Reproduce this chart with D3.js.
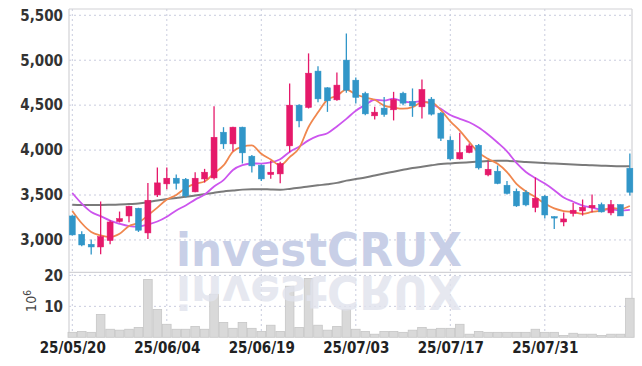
<!DOCTYPE html>
<html>
<head>
<meta charset="utf-8">
<script src="https://cdn.jsdelivr.net/npm/d3@7"></script>
<style>
  body { margin: 0; background: #fff; }
  svg { display: block; }
</style>
</head>
<body>
<div id="container"></div>
<script>
/* DATA */
const dates = ["25/05/20","25/05/21","25/05/22","25/05/23","25/05/26","25/05/27","25/05/28","25/05/29","25/05/30","25/06/02",
  "25/06/04","25/06/05","25/06/09","25/06/10","25/06/11","25/06/12","25/06/13","25/06/16","25/06/17","25/06/18",
  "25/06/19","25/06/20","25/06/23","25/06/24","25/06/25","25/06/26","25/06/27","25/06/30","25/07/01","25/07/02",
  "25/07/03","25/07/04","25/07/07","25/07/08","25/07/09","25/07/10","25/07/11","25/07/14","25/07/15","25/07/16",
  "25/07/17","25/07/18","25/07/21","25/07/22","25/07/23","25/07/24","25/07/25","25/07/28","25/07/29","25/07/30",
  "25/07/31","25/08/01","25/08/04","25/08/05","25/08/06","25/08/07","25/08/08","25/08/11","25/08/12","25/08/13"];

const open = [3267,3063,2952,2922,2993,3205,3267,3353,3078,3501,
  3624,3687,3676,3535,3679,3690,4199,4069,4255,3932,
  3832,3728,3735,4047,4500,4474,4879,4693,4559,5001,
  4778,4630,4381,4467,4448,4633,4541,4481,4567,4411,
  4110,3902,3973,4054,3724,3765,3609,3542,3531,3361,
  3487,3260,3200,3294,3323,3357,3394,3301,3394,3798];
const high = [3275,3097,3004,3428,3220,3316,3380,3358,3635,3806,
  3806,3728,3690,3754,3791,4489,4255,4260,4260,3945,
  3840,3880,3870,4742,4511,5076,4934,4700,4864,5298,
  4808,4648,4481,4592,4648,4648,4686,4786,4590,4425,
  4155,4192,4073,4069,3876,3828,3657,3572,3555,3695,
  3500,3265,3305,3412,3450,3505,3416,3445,3394,3962];
const low = [3050,2930,2837,2841,2952,3194,3197,3089,3011,3479,
  3564,3561,3472,3530,3639,3672,4013,3988,3851,3751,
  3657,3680,3631,3977,4255,4463,4533,4425,4550,4637,
  4519,4389,4341,4370,4330,4500,4370,4352,4385,4102,
  3888,3895,3965,3784,3709,3620,3505,3368,3375,3308,
  3238,3122,3152,3260,3271,3308,3305,3275,3267,3494];
const close = [3056,2944,2922,3038,3200,3238,3375,3108,3442,3635,
  3687,3631,3490,3687,3754,4143,4069,4255,3969,3824,
  3679,3754,3851,4500,4325,4856,4570,4548,4723,4667,
  4586,4403,4422,4396,4563,4522,4492,4675,4400,4132,
  3902,3973,4047,3802,3787,3628,3517,3379,3390,3464,
  3278,3245,3234,3331,3364,3386,3312,3394,3267,3531];

// volume, in 10^6
const volume = [1.6,1.9,1.6,7.4,2.6,2.3,2.6,3.2,18.7,9.0,
  4.2,2.6,2.6,3.5,2.6,13.9,4.8,2.9,4.8,2.9,
  1.9,3.9,1.9,16.5,3.2,19.0,3.9,2.3,3.5,9.0,
  2.6,1.9,1.0,1.9,1.9,1.6,2.3,3.2,2.6,2.9,
  2.9,4.2,1.0,1.9,1.6,1.6,1.6,1.6,1.6,2.6,
  1.6,1.6,0.6,1.3,1.0,1.0,0.6,1.0,1.0,12.6];

const ma5 = [3323,3186,3089,3050,3032,3068,3155,3192,3273,3360,
  3449,3501,3577,3626,3650,3741,3829,3982,4038,4052,
  3959,3896,3830,3922,4022,4257,4420,4560,4604,4673,
  4619,4585,4560,4495,4474,4461,4479,4530,4530,4444,
  4320,4216,4091,3971,3902,3847,3756,3623,3540,3476,
  3406,3351,3322,3310,3290,3312,3325,3357,3345,3378];
const ma10 = [3523,3405,3312,3265,3215,3180,3155,3148,3172,3205,
  3259,3328,3384,3449,3505,3595,3665,3779,3832,3851,
  3850,3862,3899,3980,4037,4108,4158,4188,4263,4347,
  4438,4503,4560,4550,4573,4540,4532,4545,4513,4459,
  4391,4348,4310,4251,4173,4084,3986,3857,3756,3689,
  3627,3554,3472,3425,3383,3359,3338,3340,3328,3334];
const ma60 = [3392,3390,3390,3390,3392,3395,3400,3405,3420,3440,
  3455,3468,3480,3495,3510,3525,3540,3550,3560,3565,
  3565,3562,3560,3568,3580,3595,3608,3620,3635,3660,
  3678,3695,3718,3740,3760,3780,3800,3815,3830,3845,
  3852,3858,3865,3872,3878,3880,3880,3875,3868,3862,
  3855,3850,3845,3840,3835,3830,3827,3823,3821,3821];

const priceTicks = [3000, 3500, 4000, 4500, 5000, 5500];
const volTicks = [10, 20];
const dateTicks = ["25/05/20","25/06/04","25/06/19","25/07/03","25/07/17","25/07/31"];

/* CONSTANTS */
const width = 642, height = 366;
const plotLeft = 69, plotRight = 632;
const priceTop = 9, priceBottom = 272.3;
const volTop = 272.3, volBottom = 337.3;
const up = "#e5196a", down = "#3196c8";
const font = "'Liberation Sans Narrow', 'DejaVu Sans Condensed', sans-serif";

const candles = dates.map((d, i) => ({
  date: d, o: open[i], h: high[i], l: low[i], c: close[i], v: volume[i]
}));

/* SCALES */
const xScale = d3.scalePoint()
  .domain(dates)
  .range([72.3, 629.85]);

const yScale = d3.scaleLinear()
  .domain([2640, 5570])
  .range([priceBottom, priceTop]);

const vScale = d3.scaleLinear()
  .domain([0, 21])
  .range([volBottom, volTop]);

/* SVG */
const svg = d3.select("#container")
  .append("svg")
  .attr("width", width)
  .attr("height", height);

// grid
const grid = svg.append("g")
  .attr("stroke", "#c9ccde")
  .attr("stroke-dasharray", "2,3")
  .attr("stroke-width", 1);

grid.selectAll(".hgrid")
  .data(priceTicks)
  .join("line")
  .attr("x1", plotLeft).attr("x2", plotRight)
  .attr("y1", d => yScale(d)).attr("y2", d => yScale(d));

grid.selectAll(".vgrid")
  .data(volTicks)
  .join("line")
  .attr("x1", plotLeft).attr("x2", plotRight)
  .attr("y1", d => vScale(d)).attr("y2", d => vScale(d));

grid.selectAll(".xgrid")
  .data(dateTicks)
  .join("line")
  .attr("x1", d => xScale(d)).attr("x2", d => xScale(d))
  .attr("y1", priceTop).attr("y2", volBottom);

// frame
svg.append("g")
  .attr("stroke", "#d2d2d6")
  .attr("stroke-width", 1.2)
  .selectAll("line")
  .data([
    [plotLeft, priceTop, plotRight, priceTop],
    [plotLeft, priceTop, plotLeft, volBottom],
    [plotRight, priceTop, plotRight, volBottom],
    [plotLeft, priceBottom, plotRight, priceBottom]
  ])
  .join("line")
  .attr("x1", d => d[0]).attr("y1", d => d[1])
  .attr("x2", d => d[2]).attr("y2", d => d[3]);

// volume bars
svg.append("g")
  .selectAll("rect")
  .data(candles)
  .join("rect")
  .attr("x", d => xScale(d.date) - 4.3)
  .attr("width", 8.6)
  .attr("y", d => vScale(d.v))
  .attr("height", d => vScale(0) - vScale(d.v))
  .attr("fill", "#d9d9d9")
  .attr("stroke", "#c6c6c6")
  .attr("stroke-width", 0.8);

// watermark + reflection
svg.append("defs").append("text")
  .attr("id", "wmark")
  .attr("x", 319).attr("y", 266)
  .attr("text-anchor", "middle")
  .attr("font-family", "'DejaVu Sans', sans-serif")
  .attr("font-weight", "bold")
  .attr("font-size", 46)
  .attr("textLength", 286)
  .attr("lengthAdjust", "spacingAndGlyphs")
  .text("investCRUX");

svg.append("use")
  .attr("href", "#wmark")
  .attr("fill", "#c8cfe7");

svg.append("use")
  .attr("href", "#wmark")
  .attr("transform", "translate(0,542) scale(1,-1)")
  .attr("fill", "#e1e3ed")
  .attr("opacity", 0.8);

// moving averages
const line = arr => d3.line()
  .x((d, i) => xScale(dates[i]))
  .y(d => yScale(d))
  .curve(d3.curveMonotoneX)(arr);

svg.append("path").attr("d", line(ma60))
  .attr("fill", "none").attr("stroke", "#7a7a7a").attr("stroke-width", 2);
svg.append("path").attr("d", line(ma10))
  .attr("fill", "none").attr("stroke", "#cc55ee").attr("stroke-width", 1.8);
svg.append("path").attr("d", line(ma5))
  .attr("fill", "none").attr("stroke", "#f0874e").attr("stroke-width", 1.8);

// candles
const cg = svg.append("g")
  .selectAll("g")
  .data(candles)
  .join("g")
  .attr("fill", d => d.c >= d.o ? up : down)
  .attr("stroke", d => d.c >= d.o ? up : down);

cg.append("line")
  .attr("x1", d => xScale(d.date)).attr("x2", d => xScale(d.date))
  .attr("y1", d => yScale(d.h)).attr("y2", d => yScale(d.l))
  .attr("stroke-width", 1.3);

cg.append("rect")
  .attr("x", d => xScale(d.date) - 3)
  .attr("width", 6)
  .attr("y", d => yScale(Math.max(d.o, d.c)))
  .attr("height", d => Math.max(1.5, Math.abs(yScale(d.o) - yScale(d.c))))
  .attr("stroke-width", 0.5);

// y axis labels (price)
svg.append("g")
  .attr("transform", `translate(${plotLeft},0)`)
  .call(d3.axisLeft(yScale).tickValues(priceTicks).tickFormat(d3.format(",")).tickSize(0).tickPadding(6))
  .call(g => g.select(".domain").remove())
  .call(g => g.selectAll("text")
    .attr("font-family", font).attr("font-weight", "bold").attr("font-size", 15).attr("fill", "#333"));

// y axis labels (volume)
svg.append("g")
  .attr("transform", `translate(${plotLeft},0)`)
  .call(d3.axisLeft(vScale).tickValues(volTicks).tickSize(0).tickPadding(6))
  .call(g => g.select(".domain").remove())
  .call(g => g.selectAll("text")
    .attr("font-family", font).attr("font-weight", "bold").attr("font-size", 15).attr("fill", "#333"));

// volume unit
const unit = svg.append("text")
  .attr("transform", "translate(36,301) rotate(-90)")
  .attr("text-anchor", "middle")
  .attr("font-family", font)
  .attr("font-size", 14)
  .attr("fill", "#444");
unit.append("tspan").text("10");
unit.append("tspan").attr("dy", -5).attr("font-size", 10).text("6");

// x axis
svg.append("g")
  .attr("transform", `translate(0,${volBottom})`)
  .call(d3.axisBottom(xScale).tickValues(dateTicks).tickSize(0).tickPadding(5))
  .call(g => g.select(".domain").remove())
  .call(g => g.selectAll("text")
    .attr("font-family", font).attr("font-weight", "bold").attr("font-size", 15).attr("fill", "#222"));
</script>
</body>
</html>
